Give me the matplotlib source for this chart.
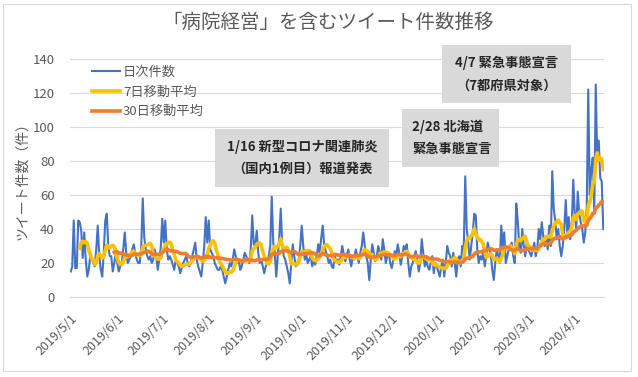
import pandas as pd
import matplotlib
matplotlib.use('Agg')
import matplotlib.pyplot as plt
import matplotlib.dates as mdates
from matplotlib.patches import Rectangle, ConnectionPatch

plt.rcParams['font.family'] = ['Noto Sans CJK JP', 'DejaVu Sans']

# daily tweet counts, 2019/5/1 onwards
daily = [
    15, 18, 45, 17, 17, 45, 44, 39, 23, 38,
    22, 12, 16, 24, 22, 20, 18, 28, 42, 24,
    16, 12, 26, 45, 49, 30, 24, 24, 15, 20,
    25, 20, 15, 18, 20, 28, 38, 26, 20, 22,
    24, 28, 31, 26, 22, 20, 20, 30, 58, 35,
    28, 24, 22, 24, 20, 22, 28, 24, 16, 22,
    29, 46, 32, 45, 28, 22, 24, 22, 19, 16,
    22, 20, 18, 14, 17, 20, 22, 24, 20, 18,
    20, 24, 28, 32, 22, 18, 15, 12, 20, 30,
    47, 32, 45, 28, 26, 24, 20, 18, 16, 16,
    18, 16, 12, 8, 12, 16, 20, 18, 22, 28,
    24, 20, 22, 16, 18, 22, 26, 24, 22, 20,
    28, 48, 31, 30, 39, 26, 20, 22, 18, 14,
    18, 20, 24, 30, 59, 32, 26, 12, 24, 35,
    52, 30, 24, 22, 18, 14, 8, 20, 31, 24,
    18, 20, 22, 30, 42, 30, 22, 25, 20, 22,
    24, 18, 22, 19, 24, 31, 26, 35, 42, 30,
    27, 24, 20, 22, 18, 17, 24, 21, 22, 19,
    24, 30, 25, 21, 24, 28, 22, 18, 24, 22,
    28, 24, 20, 26, 30, 38, 30, 24, 20, 10,
    22, 31, 26, 21, 24, 30, 26, 22, 34, 28,
    20, 24, 26, 20, 17, 22, 27, 24, 31, 26,
    19, 24, 30, 28, 31, 20, 12, 18, 20, 24,
    27, 22, 15, 20, 34, 26, 18, 22, 18, 16,
    20, 24, 14, 20, 18, 15, 12, 18, 22, 12,
    20, 30, 26, 24, 18, 26, 20, 12, 22, 24,
    18, 30, 28, 71, 40, 32, 22, 30, 38, 49,
    48, 28, 20, 24, 22, 27, 18, 24, 32, 28,
    26, 16, 10, 20, 28, 24, 20, 42, 30, 38,
    20, 24, 28, 30, 32, 24, 20, 55, 45, 30,
    26, 40, 30, 24, 32, 28, 26, 24, 28, 32,
    24, 28, 40, 34, 44, 36, 30, 36, 28, 42,
    30, 74, 52, 45, 34, 40, 30, 24, 30, 40,
    57, 38, 47, 34, 42, 69, 49, 40, 62, 49,
    44, 40, 32, 38, 53, 122, 60, 75, 82, 50,
    125, 80, 92, 70, 68, 40,
]
start_date = '2019-05-01'
series_names = ['日次件数', '7日移動平均', '30日移動平均']

notes = ['1/16 新型コロナ関連肺炎\n（国内1例目）報道発表',
         '2/28 北海道\n緊急事態宣言',
         '4/7 緊急事態宣言\n（7都府県対象）']
note_dates = ['2020-01-15', '2020-02-23', '2020-04-07']
note_vals = [25, 55, 65]

dates = pd.date_range(start_date, periods=len(daily), freq='D')
s = pd.Series(daily, index=dates, dtype=float)
ma7 = s.rolling(7).mean()
ma30 = s.rolling(30).mean()

tick_dates = pd.date_range(start_date, '2020-04-01', freq='MS')
tick_labels = [f'{d.year}/{d.month}/{d.day}' for d in tick_dates]

W, H = 638, 377
grey = '#595959'
fig = plt.figure(figsize=(W / 100, H / 100), dpi=100)
ax = fig.add_axes([70 / W, (H - 297) / H, (604 - 70) / W, (297 - 59) / H])

ax.plot(dates, s.values, color='#4472C4', lw=1.5, label=series_names[0], zorder=3)
ax.plot(dates, ma7.values, color='#FFC000', lw=2.6, label=series_names[1], zorder=4)
ax.plot(dates, ma30.values, color='#ED7D31', lw=2.6, label=series_names[2], zorder=5)

ax.set_xlim(dates[0] - pd.Timedelta(hours=12), dates[-1] + pd.Timedelta(hours=12))
ax.set_ylim(0, 140)
ax.set_yticks(range(0, 141, 20))
ax.set_xticks(tick_dates)
ax.set_xticklabels(tick_labels, rotation=45, ha='right', va='top',
                   rotation_mode='anchor', fontsize=9, color=grey)
ax.tick_params(axis='x', length=0, pad=11)
ax.tick_params(axis='y', length=0, pad=11, labelsize=9.5, labelcolor=grey)
ax.grid(axis='y', color='#D9D9D9', lw=0.8)
ax.set_axisbelow(True)
for side in ['top', 'right', 'left']:
    ax.spines[side].set_visible(False)
ax.spines['bottom'].set_color('#D9D9D9')
ax.spines['bottom'].set_linewidth(0.8)

leg = ax.legend(loc='upper left', bbox_to_anchor=(92 / W, (H - 66) / H),
                bbox_transform=fig.transFigure, frameon=False, fontsize=9.5,
                handlelength=2.1, handletextpad=0.25, labelspacing=0.5,
                borderpad=0, borderaxespad=0)
for t in leg.get_texts():
    t.set_color(grey)

# title, y label, chart border
fig.text(328 / W, (H - 22) / H, '「病院経営」を含むツイート件数推移',
         ha='center', va='center', fontsize=14, color=grey)
fig.text(22 / W, (H - 178) / H, 'ツイート件数（件）', rotation=90,
         ha='center', va='center', fontsize=10, color=grey)
fig.add_artist(Rectangle((3 / W, (H - 371) / H), 628 / W, 367 / H,
                         transform=fig.transFigure, fill=False,
                         edgecolor='#D9D9D9', lw=0.8))

# callout boxes (x0, y0, x1, y1 in image pixels)
boxes = [(215, 129, 389, 187), (402, 109, 499, 167), (442, 45, 571, 103)]
aligns = ['center', 'left', 'center']
for txt, (x0, y0, x1, y1), al, d, v in zip(notes, boxes, aligns, note_dates, note_vals):
    fig.add_artist(Rectangle((x0 / W, (H - y1) / H), (x1 - x0) / W, (y1 - y0) / H,
                             transform=fig.transFigure, facecolor='#D9D9D9',
                             edgecolor='none', zorder=6))
    tx = (x0 + x1) / 2 if al == 'center' else x0 + 10
    fig.text(tx / W, (H - (y0 + y1) / 2) / H, txt, ha=al, va='center',
             multialignment=al, fontsize=9.5, fontweight='bold',
             color='#262626', linespacing=1.75, zorder=7)
    con = ConnectionPatch(xyA=(x1 / W, (H - y1) / H), coordsA='figure fraction',
                          xyB=(mdates.date2num(pd.Timestamp(d)), v), coordsB='data',
                          axesB=ax, color='#7F7F7F', lw=0.75, zorder=6)
    fig.add_artist(con)

fig.savefig('out.png', dpi=100)
